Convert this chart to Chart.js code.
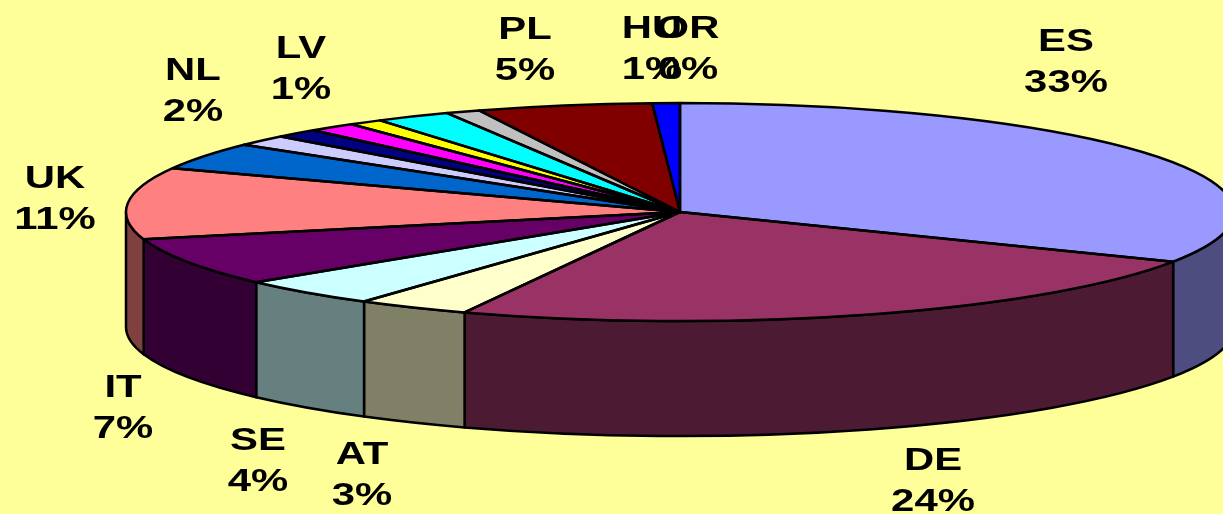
<!DOCTYPE html>
<html>
<head>
<meta charset="utf-8">
<script src="https://cdn.jsdelivr.net/npm/chart.js@4.4.0/dist/chart.umd.min.js"></script>
<style>
  html, body { margin: 0; padding: 0; background: #FFFF99; overflow: hidden; }
</style>
</head>
<body>
<canvas id="pie" width="1223" height="514"></canvas>
<script>
// slices in drawing order, clockwise from 12 o'clock (blank name = no label in the picture)
const countries = ['ES', 'DE', 'AT', 'SE', 'IT', 'UK', '', 'NL', 'LV', '', '', '', '', 'PL', 'HU', 'OR'];
const shares = [32.5, 23.8, 3.3, 4.2, 7.1, 10.6, 4.0, 1.6, 1.3, 1.4, 1.0, 2.2, 1.0, 5.1, 0.8, 0];
const sliceColors = ['#9999FF', '#993366', '#FFFFCC', '#CCFFFF', '#660066', '#FF8080', '#0066CC', '#CCCCFF',
                     '#000080', '#FF00FF', '#FFFF00', '#00FFFF', '#C0C0C0', '#800000', '#0000FF', '#008080'];

// layout only: where each label block is centred
const labelSpots = [[1066, 62], [933, 481], [362, 475], [258, 461], [123, 408], [55, 199], null, [193, 91],
                    [301, 69], null, null, null, null, [525, 50], [652, 49], [688, 49]];

const rimW = 554, rimH = 109, depth = 115;   // tilted pie: half-width, half-height, thickness
const total = shares.reduce((s, v) => s + v, 0);

const shade = (hex, f) => {
    const n = parseInt(hex.slice(1), 16);
    return `rgb(${Math.round((n >> 16 & 255) * f)},${Math.round((n >> 8 & 255) * f)},${Math.round((n & 255) * f)})`;
};

const pie3d = {
    id: 'pie3d',
    beforeDraw(chart) {
        const c = chart.ctx; c.save(); c.fillStyle = '#FFFF99'; c.fillRect(0, 0, chart.width, chart.height); c.restore();
    },
    beforeDatasetsDraw(chart) {
        const ctx = chart.ctx, arcs = chart.getDatasetMeta(0).data;
        const { x, y, outerRadius } = arcs[0];
        ctx.save();
        ctx.lineWidth = 2.5; ctx.strokeStyle = '#000'; ctx.lineJoin = 'round';
        // side walls, front half only
        arcs.forEach((arc, i) => {
            const s = Math.max(arc.startAngle, 0), e = Math.min(arc.endAngle, Math.PI);
            if (e <= s) return;
            ctx.beginPath();
            ctx.ellipse(x, y, rimW, rimH, 0, s, e);
            ctx.lineTo(x + rimW * Math.cos(e), y + depth + rimH * Math.sin(e));
            ctx.ellipse(x, y + depth, rimW, rimH, 0, e, s, true);
            ctx.closePath();
            ctx.fillStyle = shade(sliceColors[i], 0.5); ctx.fill(); ctx.stroke();
        });
        ctx.restore();
        // squash the library's round pie into the tilted top face
        ctx.save();
        ctx.translate(x, y); ctx.scale(rimW / outerRadius, rimH / outerRadius); ctx.translate(-x, -y);
    },
    afterDatasetsDraw(chart) {
        const ctx = chart.ctx, arcs = chart.getDatasetMeta(0).data;
        ctx.restore();
        const { x, y } = arcs[0];
        ctx.save();
        ctx.lineWidth = 2.5; ctx.strokeStyle = '#000'; ctx.lineJoin = 'round';
        arcs.forEach(arc => {
            if (arc.endAngle - arc.startAngle <= 0) return;
            ctx.beginPath(); ctx.moveTo(x, y);
            ctx.ellipse(x, y, rimW, rimH, 0, arc.startAngle, arc.endAngle);
            ctx.closePath(); ctx.stroke();
        });
        ctx.restore();
    },
    afterDraw(chart) {
        const ctx = chart.ctx;
        ctx.save();
        ctx.fillStyle = '#000'; ctx.font = 'bold 31px "Liberation Sans", Arial, sans-serif';
        ctx.textAlign = 'center'; ctx.textBaseline = 'middle';
        countries.forEach((name, i) => {
            const spot = labelSpots[i]; if (!name || !spot) return;
            ctx.save(); ctx.translate(spot[0], spot[1]); ctx.scale(1.35, 1);
            ctx.fillText(name, 0, -20); ctx.fillText(Math.round(shares[i] / total * 100) + '%', 0, 21);
            ctx.restore();
        });
        ctx.restore();
    }
};

new Chart(document.getElementById('pie'), {
    type: 'pie',
    data: { labels: countries, datasets: [{ data: shares, backgroundColor: sliceColors, borderWidth: 0, clip: false }] },
    options: {
        responsive: false, animation: false,
        layout: { padding: { left: 137, bottom: 90 } },
        plugins: { legend: { display: false }, tooltip: { enabled: false } }
    },
    plugins: [pie3d]
});
</script>
</body>
</html>
